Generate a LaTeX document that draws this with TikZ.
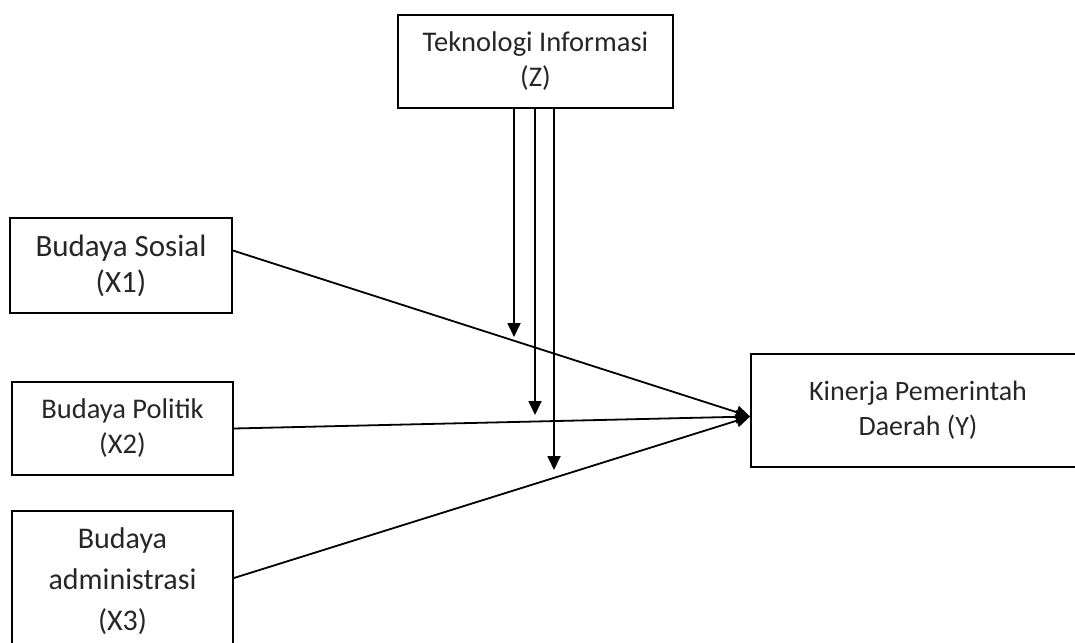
\documentclass[tikz,border=0pt]{standalone}
\usepackage{fontspec}
\setmainfont{Carlito}
\usetikzlibrary{arrows.meta}
\begin{document}
\begin{tikzpicture}[x=1pt,y=-1pt,
  box/.style={draw=black, line width=1.8pt, align=center, inner sep=0pt,
    font=\fontsize{28.5}{35}\selectfont, text=black!85},
  link/.style={line width=1.8pt, -{Triangle[length=14pt,width=13pt]}}]
\useasboundingbox (0,0) rectangle (1075,642);
\clip (0,0) rectangle (1075,642);
% variables
\node[box, minimum width=275pt, minimum height=93pt] (Z) at (535.5,61.5)
  {Teknologi Informasi\\(Z)};
\node[box, minimum width=222pt, minimum height=95pt,
  font=\fontsize{31}{36}\selectfont] (X1) at (121,265.5)
  {Budaya Sosial\\(X1)};
\node[box, minimum width=221pt, minimum height=93pt] (X2) at (122.5,428.5)
  {Budaya Politik\\(X2)};
\node[box, minimum width=221pt, minimum height=140pt,
  font=\fontsize{30}{41}\selectfont] (X3) at (122.5,581)
  {Budaya\\administrasi\\(X3)};
\node[box, minimum width=334pt, minimum height=113pt,
  font=\fontsize{28}{35}\selectfont] (Y) at (918,410.5)
  {Kinerja Pemerintah\\Daerah (Y)};
% direct effects
\draw[link] ([yshift=15pt]X1.east) -- ([yshift=-6pt]Y.west);
\draw[link] (X2.east) -- ([yshift=-6pt]Y.west);
\draw[link] ([yshift=3pt]X3.east) -- ([yshift=-6pt]Y.west);
% moderating effects
\coordinate (m1) at (514,337);
\coordinate (m2) at (535,415);
\coordinate (m3) at (554,470);
\draw[link] (Z.south -| m1) -- (m1);
\draw[link] (Z.south -| m2) -- (m2);
\draw[link] (Z.south -| m3) -- (m3);
\end{tikzpicture}
\end{document}
